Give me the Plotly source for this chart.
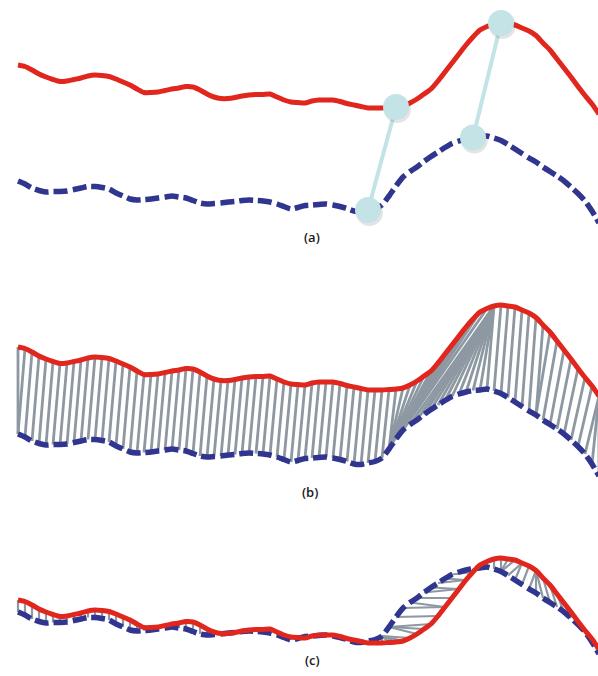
import plotly.graph_objects as go

# ---- data (signal amplitudes, arbitrary units) ----
red_signal = [55, 53.5, 50, 46, 43, 40.5, 38.5, 39, 40.5, 42,
              44, 45, 44.5, 43.5, 41, 38, 35, 31, 27.5, 27.5,
              28, 29.5, 31, 32, 33.5, 33, 30, 26, 23, 21.5,
              21.5, 22.5, 24, 25, 25.5, 25.5, 26, 23, 20, 18,
              17.5, 17, 19, 20, 20, 20, 18.5, 16.5, 15, 13.5,
              12, 12, 12, 12.5, 13, 14, 17, 21, 26, 31,
              39, 48, 57, 66, 75, 83, 90, 93.5, 96, 97,
              96, 95, 92, 89, 84.5, 77, 70, 61, 52, 43,
              33.5, 24.5, 16, 6]
blue_signal = [55, 52, 48, 45.5, 44, 44.5, 44.5, 45, 46.5, 48,
               49.5, 49.5, 48.5, 47, 43, 40, 37, 36, 36.5, 37,
               38, 39, 40, 39, 38, 35.5, 33, 32, 32.5, 33,
               34, 34.5, 35.5, 36, 35.5, 35, 34, 32, 29.5, 27,
               28.5, 30.5, 31, 31.5, 32, 31, 29.5, 27.5, 25, 24.5,
               26, 27.5, 31, 40, 50, 59, 64.5, 69, 74.5, 79.5,
               84, 88.5, 92.5, 95, 97, 98.5, 99, 100, 98, 95.5,
               91.5, 87, 82.5, 78, 74, 69, 64.5, 60, 55, 49,
               42.5, 35, 25, 13]
time = list(range(len(red_signal)))

panel_labels = ["(a)", "(b)", "(c)"]

# example matched pairs (red index, blue index) highlighted in panel (a)
highlight_pairs = [(54, 50), (69, 65)]

# warping paths, given by their corner points (red index, blue index)
warp_corners_b = [(0, 0), (1, 0), (54, 53), (66, 54), (68, 56), (68, 67),
                  (83, 81), (83, 83)]
warp_corners_c = [(0, 0), (52, 52), (55, 52), (58, 53), (60, 54), (62, 57),
                  (64, 60), (65, 63), (66, 67), (72, 70), (75, 76), (82, 83),
                  (83, 83)]

# ---- layout constants (vertical placement of each panel) ----
red_base = [556, 274, 21]
blue_base = [440, 187, 9]
RED = "#e0261d"
BLUE = "#30358f"
GREY = "#8d98a2"
PALE = "#c3e3e6"


def expand(corners):
    path = [corners[0]]
    for (i0, j0), (i1, j1) in zip(corners, corners[1:]):
        n = max(i1 - i0, j1 - j0)
        for k in range(1, n + 1):
            path.append((i0 + round(k * (i1 - i0) / n), j0 + round(k * (j1 - j0) / n)))
    return path


fig = go.Figure()


def add_links(path, p, width):
    xs, ys = [], []
    for i, j in path:
        xs += [time[i], time[j], None]
        ys += [red_base[p] + red_signal[i], blue_base[p] + blue_signal[j], None]
    fig.add_trace(go.Scatter(x=xs, y=ys, mode="lines", hoverinfo="skip",
                             line=dict(color=GREY, width=width)))


def add_curves(p):
    fig.add_trace(go.Scatter(x=time, y=[blue_base[p] + v for v in blue_signal],
                             mode="lines", hoverinfo="skip",
                             line=dict(color=BLUE, width=5.5, dash="14px,5px",
                                       shape="spline", smoothing=0.6)))
    fig.add_trace(go.Scatter(x=time, y=[red_base[p] + v for v in red_signal],
                             mode="lines", hoverinfo="skip",
                             line=dict(color=RED, width=5,
                                       shape="spline", smoothing=0.6)))


# panel (a)
add_curves(0)
for i, j in highlight_pairs:
    fig.add_trace(go.Scatter(x=[time[i], time[j]],
                             y=[red_base[0] + red_signal[i], blue_base[0] + blue_signal[j]],
                             mode="lines", hoverinfo="skip",
                             line=dict(color=PALE, width=4)))
for i, j in highlight_pairs:
    px = [time[i], time[j]]
    py = [red_base[0] + red_signal[i], blue_base[0] + blue_signal[j]]
    fig.add_trace(go.Scatter(x=[v + 0.2 for v in px], y=[v - 2.5 for v in py],
                             mode="markers", hoverinfo="skip",
                             marker=dict(size=27, color="rgba(90,90,90,0.16)")))
    fig.add_trace(go.Scatter(x=px, y=py, mode="markers", hoverinfo="skip",
                             marker=dict(size=26, color=PALE)))

# panel (b)
add_links(expand(warp_corners_b), 1, 2.8)
add_curves(1)

# panel (c)
add_links(expand(warp_corners_c), 2, 2.2)
add_curves(2)

label_pos = [(0.522, 0.650), (0.518, 0.272), (0.522, 0.024)]
for text, (lx, ly) in zip(panel_labels, label_pos):
    fig.add_annotation(x=lx, y=ly, xref="paper", yref="paper", text=text,
                       showarrow=False, xanchor="center", yanchor="middle",
                       font=dict(family="Open Sans", size=13, color="#1a1a1a", weight=600))

fig.update_layout(width=598, height=676, margin=dict(l=0, r=0, t=0, b=0),
                  paper_bgcolor="white", plot_bgcolor="white", showlegend=False,
                  xaxis=dict(range=[-18 / 7, 580 / 7], visible=False, fixedrange=True),
                  yaxis=dict(range=[0, 676], visible=False, fixedrange=True))

fig.write_html("out.html", config={"displayModeBar": False},
               post_script="document.body.style.margin='0';document.body.style.overflow='hidden';")
